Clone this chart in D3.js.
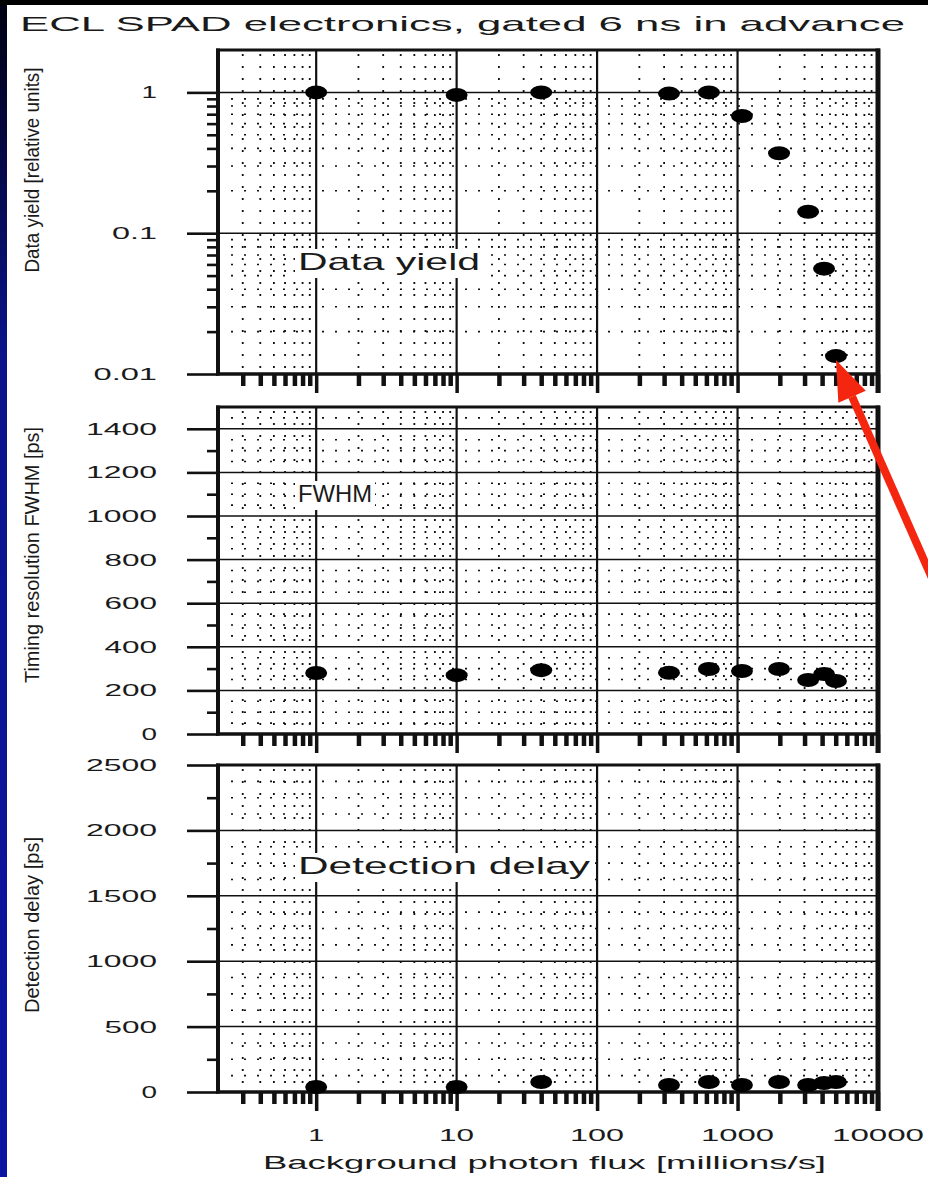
<!DOCTYPE html>
<html>
<head>
<meta charset="utf-8">
<script src="https://cdn.jsdelivr.net/npm/d3@7"></script>
<style>
  html, body { margin: 0; padding: 0; background: #fff; }
  svg { display: block; }
  text { font-family: "Liberation Sans", Arial, sans-serif; fill: #1a1a1a; }
</style>
</head>
<body>
<script>
// Data
const fluxValues = [1, 10, 40, 325, 625, 1075, 1975, 3180, 4130, 5020];
const dataYield = [1.0, 0.96, 1.0, 0.98, 1.0, 0.68, 0.37, 0.142, 0.056, 0.0134];
const fwhmPs = [280, 270, 293, 281, 298, 289, 298, 248, 275, 243];
const delayPs = [38, 38, 76, 53, 76, 53, 76, 53, 69, 76];

const xTickLabels = ["1", "10", "100", "1000", "10000"];
const yieldTicks = [0.01, 0.1, 1];
const yieldTickLabels = ["0.01", "0.1", "1"];
const fwhmTicks = [0, 200, 400, 600, 800, 1000, 1200, 1400];
const delayTicks = [0, 500, 1000, 1500, 2000, 2500];

const chartTitle = "ECL SPAD electronics, gated 6 ns in advance";
const xAxisTitle = "Background photon flux [millions/s]";
const panelTitles = ["Data yield", "FWHM", "Detection delay"];
const yAxisTitles = ["Data yield [relative units]", "Timing resolution FWHM [ps]", "Detection delay [ps]"];

const width = 928, height = 1177;

const svg = d3.select("body").append("svg")
  .attr("width", width)
  .attr("height", height);

// frame of the slide: black strip on top, blue strip on the left
const defs = svg.append("defs");
const grad = defs.append("linearGradient")
  .attr("id", "side").attr("x1", 0).attr("y1", 0).attr("x2", 0).attr("y2", 1);
grad.append("stop").attr("offset", "0").attr("stop-color", "#000010");
grad.append("stop").attr("offset", "0.3").attr("stop-color", "#0b138a");
grad.append("stop").attr("offset", "1").attr("stop-color", "#0a16a2");

svg.append("rect").attr("width", width).attr("height", height).attr("fill", "#fff");
svg.append("rect").attr("x", 0).attr("y", 0).attr("width", 7).attr("height", height).attr("fill", "url(#side)");
svg.append("rect").attr("x", 0).attr("y", 0).attr("width", width).attr("height", 5).attr("fill", "#000");

// x scale shared by the three panels
const x = d3.scaleLog().domain([0.2, 10000]).range([218, 878]);
const xMajor = [1, 10, 100, 1000, 10000];
const xMinor = [];
for (let d = -1; d <= 3; d++) {
  for (let k = 2; k <= 9; k++) {
    const v = k * Math.pow(10, d);
    if (v > 0.2 && v < 10000) xMinor.push(v);
  }
}

const yieldMinor = [];
for (let d = -2; d <= -1; d++) for (let k = 2; k <= 9; k++) yieldMinor.push(k * Math.pow(10, d));

const panels = [
  {
    y: d3.scaleLog().domain([0.01, 2]).range([374, 50]),
    major: yieldTicks, labels: yieldTickLabels,
    minorTicks: yieldMinor, minorGrid: yieldMinor,
    values: dataYield, title: panelTitles[0], yTitle: yAxisTitles[0],
    titleBox: [298, 270, 182], yTitlePos: [170, 205]
  },
  {
    y: d3.scaleLinear().domain([0, 1500]).range([734, 407]),
    major: fwhmTicks, labels: fwhmTicks.map(String),
    minorTicks: d3.range(100, 1500, 200), minorGrid: d3.range(50, 1500, 50).filter(v => v % 200 !== 0),
    values: fwhmPs, title: panelTitles[1], yTitle: yAxisTitles[1],
    titleBox: [298, 502, 74], yTitlePos: [555, 256]
  },
  {
    y: d3.scaleLinear().domain([0, 2500]).range([1092, 765]),
    major: delayTicks, labels: delayTicks.map(String),
    minorTicks: d3.range(250, 2500, 500), minorGrid: d3.range(125, 2500, 125).filter(v => v % 500 !== 0),
    values: delayPs, title: panelTitles[2], yTitle: yAxisTitles[2],
    titleBox: [298, 874, 292], yTitlePos: [925, 176]
  }
];

function labelWidth(s) {
  let w = 0;
  for (const c of s) w += (c === ".") ? 11 : 18.5;
  return w - 3;
}

panels.forEach(p => {
  const y = p.y;
  const [y0, y1] = y.range();
  const x0 = x.range()[0], x1 = x.range()[1];
  const g = svg.append("g");

  // dotted minor grid
  g.append("g").selectAll("line").data(xMinor).join("line")
    .attr("x1", d => x(d)).attr("x2", d => x(d))
    .attr("y1", y1 + 4).attr("y2", y0)
    .attr("stroke", "#111").attr("stroke-width", 1.8)
    .attr("stroke-dasharray", "2 10");
  g.append("g").selectAll("line").data(p.minorGrid).join("line")
    .attr("x1", x0).attr("x2", x1)
    .attr("y1", d => y(d)).attr("y2", d => y(d))
    .attr("stroke", "#111").attr("stroke-width", 1.6)
    .attr("stroke-dasharray", "2 11");

  // solid major grid
  g.append("g").selectAll("line").data(p.major.filter(v => v !== y.domain()[0])).join("line")
    .attr("x1", x0).attr("x2", x1)
    .attr("y1", d => y(d)).attr("y2", d => y(d))
    .attr("stroke", "#111").attr("stroke-width", 1.5);
  g.append("g").selectAll("line").data(xMajor.slice(0, 4)).join("line")
    .attr("x1", d => x(d)).attr("x2", d => x(d))
    .attr("y1", y1).attr("y2", y0)
    .attr("stroke", "#111").attr("stroke-width", 2.2);

  // left axis ticks
  const leftMajor = g.append("g").attr("transform", `translate(${x0},0)`)
    .call(d3.axisLeft(y).tickValues(p.major).tickSize(31).tickFormat(""));
  const leftMinor = g.append("g").attr("transform", `translate(${x0},0)`)
    .call(d3.axisLeft(y).tickValues(p.minorTicks).tickSize(11).tickFormat(""));
  [leftMajor, leftMinor].forEach(a => {
    a.select(".domain").remove();
    a.selectAll("line").attr("stroke", "#111").attr("stroke-width", 2.6);
  });

  // bottom axis ticks
  const botMajor = g.append("g").attr("transform", `translate(0,${y0})`)
    .call(d3.axisBottom(x).tickValues(xMajor).tickSize(19).tickFormat(""));
  const botMinor = g.append("g").attr("transform", `translate(0,${y0})`)
    .call(d3.axisBottom(x).tickValues(xMinor).tickSize(12).tickFormat(""));
  botMajor.select(".domain").remove();
  botMinor.select(".domain").remove();
  botMajor.selectAll("line").attr("stroke", "#111").attr("stroke-width", 3.5);
  botMinor.selectAll("line").attr("stroke", "#111").attr("stroke-width", 4.5);

  // frame
  g.append("line").attr("x1", x0 - 2).attr("x2", x1 + 2).attr("y1", y1).attr("y2", y1)
    .attr("stroke", "#111").attr("stroke-width", 3);
  g.append("line").attr("x1", x0 - 2).attr("x2", x1 + 2).attr("y1", y0).attr("y2", y0)
    .attr("stroke", "#111").attr("stroke-width", 3.5);
  g.append("line").attr("x1", x0).attr("x2", x0).attr("y1", y1 - 1.5).attr("y2", y0 + 1.5)
    .attr("stroke", "#111").attr("stroke-width", 4);
  g.append("line").attr("x1", x1).attr("x2", x1).attr("y1", y1 - 1.5).attr("y2", y0 + 19)
    .attr("stroke", "#111").attr("stroke-width", 5);

  // y tick labels
  g.append("g").selectAll("text").data(p.major).join("text")
    .attr("x", 157).attr("y", d => y(d) + 6)
    .attr("text-anchor", "end")
    .attr("font-size", 17)
    .attr("textLength", (d, i) => labelWidth(p.labels[i]))
    .attr("lengthAdjust", "spacingAndGlyphs")
    .text((d, i) => p.labels[i]);

  // rotated y axis title
  g.append("text")
    .attr("transform", `translate(39,${p.yTitlePos[0]}) rotate(-90)`)
    .attr("text-anchor", "middle")
    .attr("font-size", 20)
    .attr("textLength", p.yTitlePos[1])
    .attr("lengthAdjust", "spacingAndGlyphs")
    .text(p.yTitle);

  // panel title with white backing
  const [tx, ty, tw] = p.titleBox;
  g.append("rect").attr("x", tx - 3).attr("y", ty - 21).attr("width", tw + 6).attr("height", 29)
    .attr("fill", "#fff");
  g.append("text")
    .attr("x", tx).attr("y", ty)
    .attr("font-size", 24)
    .attr("textLength", tw)
    .attr("lengthAdjust", "spacingAndGlyphs")
    .text(p.title);

  // data points
  g.append("g").selectAll("ellipse").data(fluxValues).join("ellipse")
    .attr("cx", d => x(d))
    .attr("cy", (d, i) => y(p.values[i]))
    .attr("rx", 11).attr("ry", 7)
    .attr("fill", "#000");
});

// x tick labels
svg.append("g").selectAll("text").data(xMajor).join("text")
  .attr("x", d => x(d)).attr("y", 1141)
  .attr("text-anchor", "middle")
  .attr("font-size", 17)
  .attr("textLength", (d, i) => xTickLabels[i].length * 19 - 3)
  .attr("lengthAdjust", "spacingAndGlyphs")
  .text((d, i) => xTickLabels[i]);

// x axis title
svg.append("text")
  .attr("x", 263).attr("y", 1169)
  .attr("font-size", 18)
  .attr("textLength", 563)
  .attr("lengthAdjust", "spacingAndGlyphs")
  .text(xAxisTitle);

// chart title
svg.append("text")
  .attr("x", 20).attr("y", 31)
  .attr("font-size", 21)
  .attr("textLength", 885)
  .attr("lengthAdjust", "spacingAndGlyphs")
  .text(chartTitle);

// red arrow pointing at the last data-yield point
const tipX = x(fluxValues[fluxValues.length - 1]), tipY = panels[0].y(dataYield[dataYield.length - 1]) + 4;
const ang = Math.atan2(tipY - 585, tipX - 935);
const headLen = 40, headHalf = 15;
const bx = tipX - headLen * Math.cos(ang), by = tipY - headLen * Math.sin(ang);
svg.append("line")
  .attr("x1", 935).attr("y1", 585).attr("x2", bx).attr("y2", by)
  .attr("stroke", "#f5260f").attr("stroke-width", 8);
svg.append("path")
  .attr("d", `M${tipX},${tipY} L${bx + headHalf * Math.sin(ang)},${by - headHalf * Math.cos(ang)} L${bx - headHalf * Math.sin(ang)},${by + headHalf * Math.cos(ang)} Z`)
  .attr("fill", "#f5260f");
</script>
</body>
</html>
